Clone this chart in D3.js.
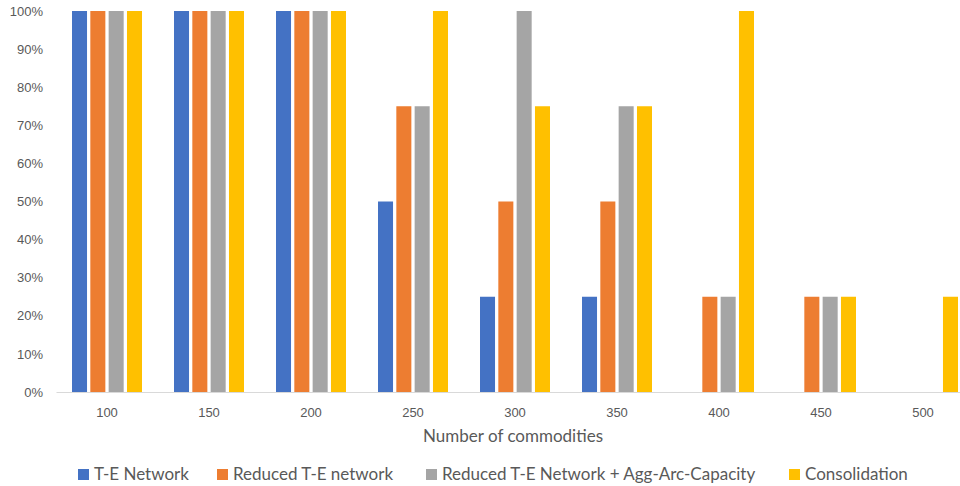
<!DOCTYPE html>
<html>
<head>
<meta charset="utf-8">
<script src="https://cdn.jsdelivr.net/npm/d3@7"></script>
<style>
  body { margin: 0; background: #fff; }
  svg { display: block; font-family: Lato, "Noto Sans", sans-serif; }
</style>
</head>
<body>
<div id="chart"></div>
<script>
const fig_width = 960
const fig_height = 486

// data (share of instances solved, per commodity count)
const categories = ['100', '150', '200', '250', '300', '350', '400', '450', '500']
const series_names = ['T-E Network', 'Reduced T-E network', 'Reduced T-E Network + Agg-Arc-Capacity', 'Consolidation']
const te_network = [1, 1, 1, 0.5, 0.25, 0.25, 0, 0, 0]
const reduced_te = [1, 1, 1, 0.75, 0.5, 0.5, 0.25, 0.25, 0]
const reduced_agg = [1, 1, 1, 0.75, 1, 0.75, 0.25, 0.25, 0]
const consolidation = [1, 1, 1, 1, 0.75, 0.75, 1, 0.25, 0.25]
const y_ticks = [0, 0.1, 0.2, 0.3, 0.4, 0.5, 0.6, 0.7, 0.8, 0.9, 1]
const colours = ['#4472C4', '#ED7D31', '#A5A5A5', '#FFC000']

const all_series = [te_network, reduced_te, reduced_agg, consolidation]
const text_colour = '#595959'

let svg = d3.select('#chart')
    .append('svg')
    .attr('width', fig_width)
    .attr('height', fig_height)

// plot area (Excel-style, slightly cut on the right)
let x0 = d3.scaleBand()
    .domain(categories)
    .range([56, 974])
    .padding(0)

let group_width = 70
let x1 = d3.scaleBand()
    .domain(d3.range(series_names.length))
    .range([0, group_width])
    .paddingInner(0.18)

let y = d3.scaleLinear()
    .domain([0, 1])
    .range([392, 11])

// y axis, labels only
let yAxis = svg.append('g')
    .attr('transform', 'translate(43,0)')
    .call(d3.axisLeft(y).tickValues(y_ticks).tickSize(0).tickPadding(0).tickFormat(d3.format('.0%')))
yAxis.select('.domain').remove()
yAxis.selectAll('text')
    .style('font-size', '13px')
    .style('fill', text_colour)

// bars
let groups = svg.selectAll('g.cat')
    .data(categories)
    .join('g')
    .attr('class', 'cat')
    .attr('transform', c => `translate(${x0(c) + (x0.bandwidth() - group_width) / 2},0)`)

groups.selectAll('rect')
    .data((c, i) => all_series.map((s, k) => ({k: k, v: s[i]})))
    .join('rect')
    .filter(d => d.v > 0)
    .attr('x', d => x1(d.k))
    .attr('width', x1.bandwidth())
    .attr('y', d => y(d.v))
    .attr('height', d => y(0) - y(d.v))
    .attr('fill', d => colours[d.k])

// x axis
let xAxis = svg.append('g')
    .attr('transform', `translate(0,${y(0)})`)
    .call(d3.axisBottom(x0).tickSize(0).tickPadding(16))
xAxis.select('.domain')
    .attr('stroke', '#D9D9D9')
    .attr('stroke-width', 1.2)
xAxis.selectAll('text')
    .style('font-size', '13px')
    .style('fill', text_colour)

svg.append('text')
    .attr('x', 513)
    .attr('y', 442)
    .attr('text-anchor', 'middle')
    .style('font-size', '17px')
    .style('fill', text_colour)
    .text('Number of commodities')

// legend
let legend_x = [78, 217, 426, 789]
let legend = svg.selectAll('g.legend')
    .data(series_names)
    .join('g')
    .attr('class', 'legend')
    .attr('transform', (d, i) => `translate(${legend_x[i]},469)`)
legend.append('rect')
    .attr('width', 11)
    .attr('height', 11)
    .attr('fill', (d, i) => colours[i])
legend.append('text')
    .attr('x', 16)
    .attr('y', 11)
    .style('font-size', '17px')
    .style('fill', text_colour)
    .text(d => d)
</script>
</body>
</html>
